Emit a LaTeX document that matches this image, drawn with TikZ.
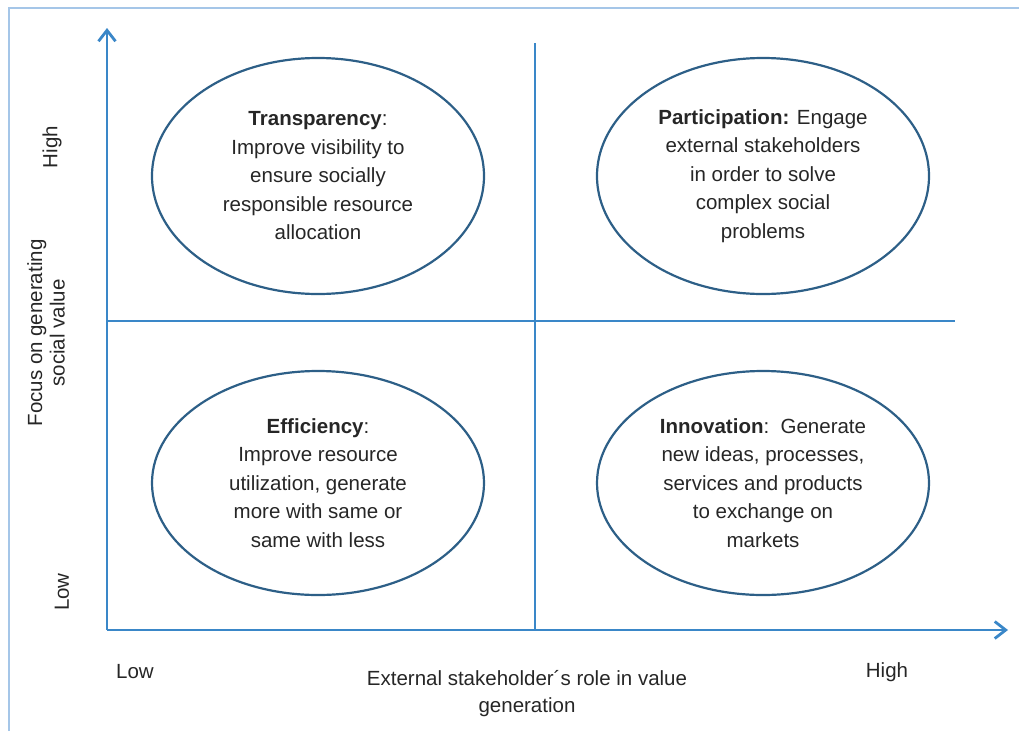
\documentclass[tikz,border=0pt]{standalone}
\usepackage{fontspec}
\setmainfont{Liberation Sans}
\usetikzlibrary{shapes.geometric,arrows.meta}
\definecolor{axisblue}{RGB}{58,135,200}
\definecolor{rimblue}{RGB}{45,95,135}
\definecolor{frameblue}{RGB}{165,198,232}
\definecolor{txtgray}{RGB}{38,38,38}

\begin{document}
\begin{tikzpicture}[x=1pt,y=-1pt,
  quadrant/.style={ellipse,draw=rimblue,line width=2.2pt,minimum width=332pt,minimum height=230pt,inner sep=0pt,align=center,text=txtgray,font=\fontsize{20.5}{28.5}\selectfont},
  axislbl/.style={text=txtgray,align=center,font=\fontsize{20.5}{27}\selectfont},
  axisline/.style={draw=axisblue,line width=2.8pt,-{Straight Barb[length=11pt,width=17pt]}},
  divider/.style={draw=axisblue,line width=1.4pt}]

\useasboundingbox (0,0) rectangle (1019,731);
\draw[frameblue,line width=2pt] (9,731) -- (9,8) -- (1019,8);

% axes and quadrant lines
\coordinate (origin) at (107,630);
\coordinate (ytip) at (107,28);
\coordinate (xtip) at (1008,630);
\coordinate (vtop) at (535,43);
\coordinate (vbot) at (535,630);
\coordinate (hleft) at (107,321);
\coordinate (hright) at (955,321);
\draw[divider] (vtop) -- (vbot);
\draw[divider] (hleft) -- (hright);
\draw[axisline] (origin) -- (ytip);
\draw[axisline] (origin) -- (xtip);

% quadrants
\node[quadrant,minimum height=236pt] (transp) at (318,176) {\textbf{Transparency}:\\Improve visibility to\\ensure socially\\responsible resource\\allocation};
\node[quadrant,minimum height=236pt] (partic) at (763,176) {\textbf{Participation:} Engage\\external stakeholders\\in order to solve\\complex social\\problems};
\node[quadrant,minimum height=224pt] (effic) at (318,483) {\textbf{Efficiency}:\\Improve resource\\utilization, generate\\more with same or\\same with less};
\node[quadrant,minimum height=224pt] (innov) at (763,483) {\textbf{Innovation}:\ \ Generate\\new ideas, processes,\\services and products\\to exchange on\\markets};

% axis labels
\node[axislbl,rotate=90] (yhigh) at (52,147) {High};
\node[axislbl,rotate=90] (ylow) at (62,592) {Low};
\node[axislbl,rotate=90,font=\fontsize{20.5}{22.5}\selectfont] (ytitle) at (46,333) {Focus on generating\\social value};
\node[axislbl] (xlow) at (135,672) {Low};
\node[axislbl] (xhigh) at (887,672) {High};
\node[axislbl] (xtitle) at (527,694) {External stakeholder´s role in value\\generation};
\end{tikzpicture}
\end{document}
